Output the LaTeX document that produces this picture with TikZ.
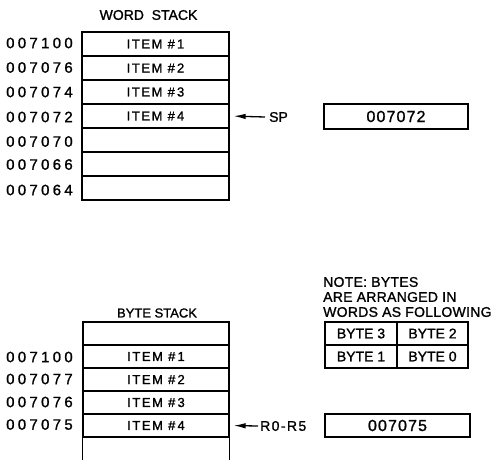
\documentclass[tikz,border=0pt]{standalone}
\usepackage{fontspec}
\setmainfont{Liberation Sans}[FakeBold=1.2]
\newfontfamily\labfont[LetterSpace=22,FakeBold=1.2]{Liberation Sans}
\newfontfamily\regfont[LetterSpace=7,FakeBold=1.2]{Liberation Sans}
\newfontfamily\itemfont[LetterSpace=12,FakeBold=1.2]{Liberation Sans}
\newfontfamily\rfont[LetterSpace=10,FakeBold=1.2]{Liberation Sans}
\newfontfamily\notefont[LetterSpace=2,FakeBold=1.2]{Liberation Sans}
\usetikzlibrary{arrows.meta}
\tikzset{
  lw/.style={line width=1.3pt},
  cell/.style={draw, lw, minimum width=147pt, minimum height=24pt, inner sep=0pt,
    font=\itemfont\fontsize{13}{15}\selectfont},
  bcell/.style={cell, minimum width=146pt, minimum height=23pt},
  lab/.style={anchor=west, inner sep=0pt, font=\labfont\fontsize{15}{18}\selectfont},
  ttl/.style={inner sep=0pt, font=\fontsize{14}{16}\selectfont},
  reg/.style={draw, lw, inner sep=0pt, font=\regfont\fontsize{16}{18}\selectfont},
  tcell/.style={draw, lw, inner sep=0pt, minimum height=23pt, font=\fontsize{14}{16}\selectfont},
  ptr/.style={lw, -{Latex[length=12pt,width=5.5pt]}, shorten >=4pt},
  note/.style={anchor=west, inner sep=0pt, font=\notefont\fontsize{14}{16}\selectfont},
}
\begin{document}
\begin{tikzpicture}[x=1pt,y=1pt]
\useasboundingbox (0,0) rectangle (493,-459);
% ---------- word stack ----------
\node[ttl] (wtitle) at (148.5,-15) {WORD\ \ STACK};
\node[cell] (w1) at (155.5,-44) {ITEM \#\,1};
\node[cell] (w2) at (155.5,-68) {ITEM \#\,2};
\node[cell] (w3) at (155.5,-92) {ITEM \#\,3};
\node[cell] (w4) at (155.5,-116) {ITEM \#\,4};
\node[cell] (w5) at (155.5,-140) {};
\node[cell] (w6) at (155.5,-164) {};
\node[cell] (w7) at (155.5,-188) {};
\node[lab] (wl1) at (6,-43) {007100};
\node[lab] (wl2) at (6,-67.5) {007076};
\node[lab] (wl3) at (6,-92) {007074};
\node[lab] (wl4) at (6,-117) {007072};
\node[lab] (wl5) at (6,-141.5) {007070};
\node[lab] (wl6) at (6,-164.5) {007066};
\node[lab] (wl7) at (6,-190) {007064};
\node[ttl, anchor=west] (sp) at (269,-117) {SP};
\draw[ptr] ([xshift=-4pt]sp.west) -- (w4.east);
\node[reg, minimum width=144pt, minimum height=25pt] (wreg) at (396,-116.5) {007072};
% ---------- byte stack ----------
\node[ttl, font=\fontsize{13}{15}\selectfont] (btitle) at (157,-313) {BYTE STACK};
\node[bcell] (b0) at (156,-333.5) {};
\node[bcell] (b1) at (156,-356.5) {ITEM \#\,1};
\node[bcell] (b2) at (156,-379.5) {ITEM \#\,2};
\node[bcell] (b3) at (156,-402.5) {ITEM \#\,3};
\node[bcell] (b4) at (156,-425.5) {ITEM \#\,4};
\draw[lw] (b4.south west) -- ++(0,-24);
\draw[lw] (b4.south east) -- ++(0,-24);
\node[lab] (bl1) at (6,-357) {007100};
\node[lab] (bl2) at (6,-379) {007077};
\node[lab] (bl3) at (6,-402) {007076};
\node[lab] (bl4) at (6,-424.5) {007075};
\node[anchor=west, inner sep=0pt, font=\rfont\fontsize{14}{16}\selectfont] (rr) at (260,-426) {R0-R5};
\draw[ptr] ([xshift=-2pt]rr.west) -- (b4.east);
\node[reg, minimum width=145pt, minimum height=23pt] (breg) at (397.5,-425.5) {007075};
% ---------- note ----------
\node[note] (n1) at (323,-282) {NOTE: BYTES};
\node[note] (n2) at (323,-297) {ARE ARRANGED IN};
\node[note] (n3) at (323,-312) {WORDS AS FOLLOWING};
\node[tcell, minimum width=72pt] (t3) at (361,-333.5) {BYTE 3};
\node[tcell, minimum width=71pt] (t2) at (432.5,-333.5) {BYTE 2};
\node[tcell, minimum width=72pt] (t1) at (361,-356.5) {BYTE 1};
\node[tcell, minimum width=71pt] (t0) at (432.5,-356.5) {BYTE 0};
\end{tikzpicture}
\end{document}
